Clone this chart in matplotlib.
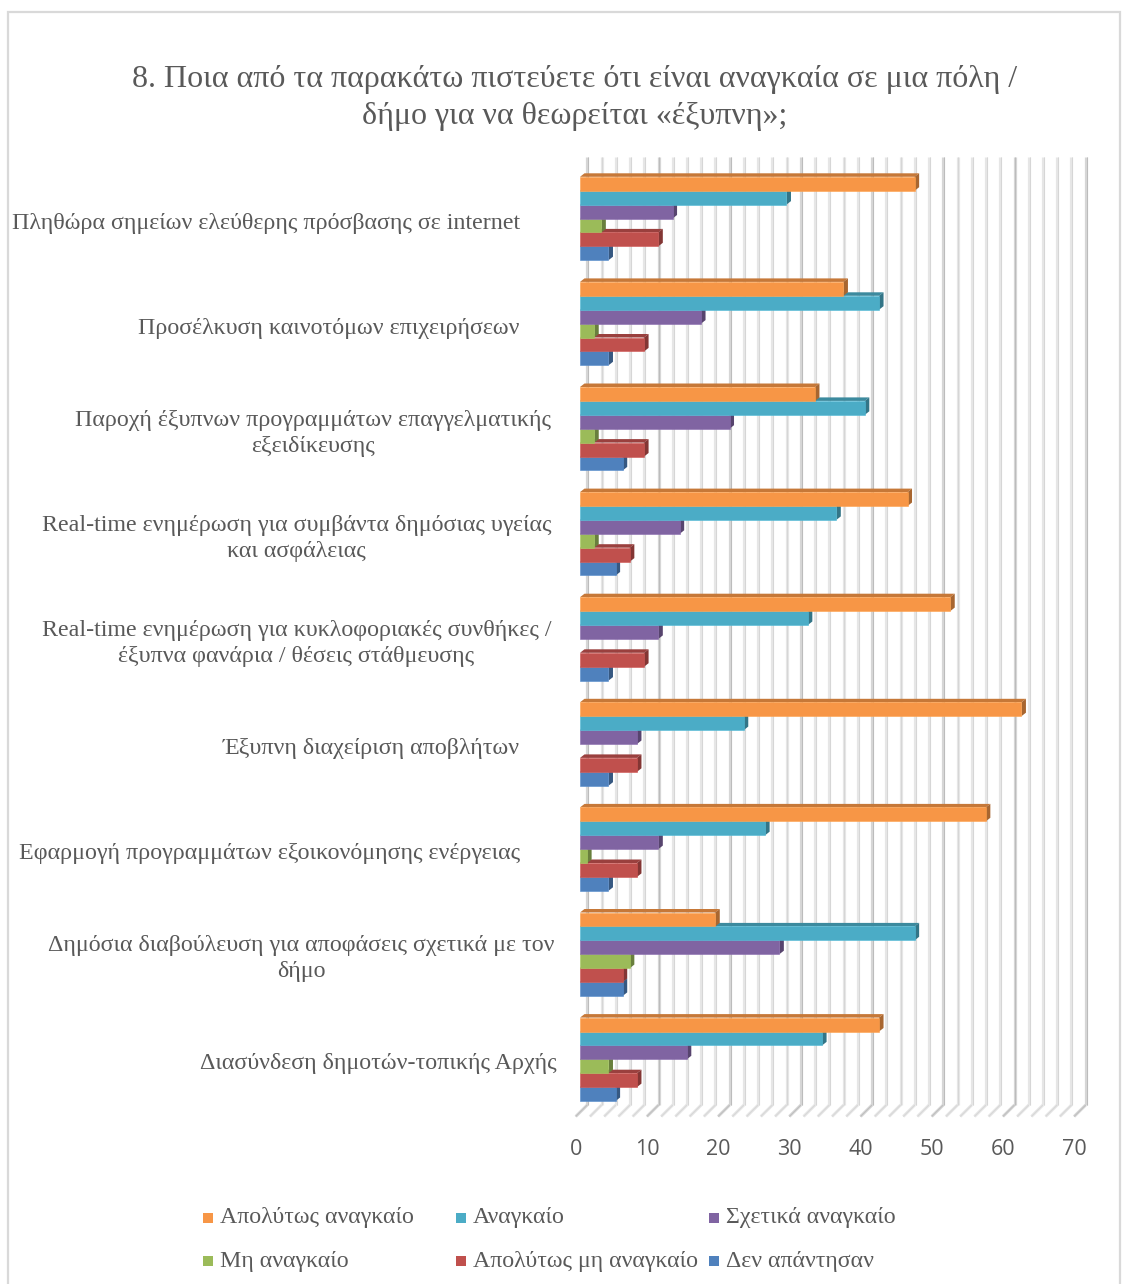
import numpy as np
import matplotlib
matplotlib.use("Agg")
import matplotlib.pyplot as plt
from matplotlib.patches import Polygon, Rectangle
from matplotlib.colors import to_rgb
from matplotlib.transforms import ScaledTranslation

# ---------------- data ----------------
categories = [
    "Πληθώρα σημείων ελεύθερης πρόσβασης σε internet",
    "Προσέλκυση καινοτόμων επιχειρήσεων",
    "Παροχή έξυπνων προγραμμάτων επαγγελματικής\nεξειδίκευσης",
    "Real-time ενημέρωση για συμβάντα δημόσιας υγείας\nκαι ασφάλειας",
    "Real-time ενημέρωση για κυκλοφοριακές συνθήκες /\nέξυπνα φανάρια / θέσεις στάθμευσης",
    "Έξυπνη διαχείριση αποβλήτων",
    "Εφαρμογή προγραμμάτων εξοικονόμησης ενέργειας",
    "Δημόσια διαβούλευση για αποφάσεις σχετικά με τον\nδήμο",
    "Διασύνδεση δημοτών-τοπικής Αρχής",
]

series_names = [
    "Απολύτως αναγκαίο",
    "Αναγκαίο",
    "Σχετικά αναγκαίο",
    "Μη αναγκαίο",
    "Απολύτως μη αναγκαίο",
    "Δεν απάντησαν",
]

apolytos_anagkaio = [47, 37, 33, 46, 52, 62, 57, 19, 42]
anagkaio = [29, 42, 40, 36, 32, 23, 26, 47, 34]
sxetika_anagkaio = [13, 17, 21, 14, 11, 8, 11, 28, 15]
mi_anagkaio = [3, 2, 2, 2, 0, 0, 1, 7, 4]
apolytos_mi_anagkaio = [11, 9, 9, 7, 9, 8, 8, 6, 8]
den_apantisan = [4, 4, 6, 5, 4, 4, 4, 6, 5]

series_values = [apolytos_anagkaio, anagkaio, sxetika_anagkaio,
                 mi_anagkaio, apolytos_mi_anagkaio, den_apantisan]
series_colors = ["#F79646", "#4BACC6", "#8064A2", "#9BBB59", "#C0504D", "#4F81BD"]

x_ticks = [0, 10, 20, 30, 40, 50, 60, 70]

title = ("8. Ποια από τα παρακάτω πιστεύετε ότι είναι αναγκαία σε μια πόλη /\n"
         "δήμο για να θεωρείται «έξυπνη»;")

# ---------------- layout ----------------
W, H = 1123, 1284
TEXT_GRAY = "#595959"
SERIF = ["Liberation Serif", "DejaVu Serif"]
SANS = ["Open Sans", "DejaVu Sans"]

fig = plt.figure(figsize=(W / 100, H / 100), dpi=100)
fig.patch.set_facecolor("white")


def fx(px):
    return px / W


def fy(py):
    return 1 - py / H


# chart frame
fig.add_artist(Rectangle((fx(8), fy(1290)), fx(1120 - 8), (1290 - 12) / H,
                         transform=fig.transFigure, fill=False,
                         edgecolor="#d9d9d9", linewidth=1.6))

X0_PX, X_SCALE, X_MAX = 580.0, 7.12, 70
AX_TOP, AX_BOT = 157.0, 1105.0
ROW0, PITCH = 218.5, 105.1

ax = fig.add_axes([fx(X0_PX), fy(AX_BOT), X_MAX * X_SCALE / W, (AX_BOT - AX_TOP) / H])
ax.set_xlim(0, X_MAX)
ax.set_ylim((AX_BOT - ROW0) / PITCH, (AX_TOP - ROW0) / PITCH)
ax.set_facecolor("none")
for sp in ax.spines.values():
    sp.set_visible(False)
ax.tick_params(axis="y", left=False, labelleft=False)


def px_delta(dx, dy_down):
    """Convert a screen offset in pixels into a data-space offset."""
    inv = ax.transData.inverted()
    p0 = ax.transData.transform((0, 0))
    a = inv.transform(p0 + np.array([dx, -dy_down]))
    b = inv.transform(p0)
    return a[0] - b[0], a[1] - b[1]


def px_to_pt(px):
    return px * 72 / 100


def shade(color, f):
    return tuple(min(1.0, c * f) for c in to_rgb(color))


y_bot, y_top = ax.get_ylim()

# back-wall gridlines and floor
back_dx, _ = px_delta(7.3, 0)
floor_dx, _ = px_delta(-4.3, 0)
_, floor_dy = px_delta(0, 11.5)
for v in np.arange(0, X_MAX + 1, 2):
    major = (v % 10 == 0)
    band = "#e6e6e6" if not major else "#d6d6d6"
    core = "#d6d6d6" if not major else "#bcbcbc"
    xb = v + back_dx
    ax.plot([xb, xb], [y_bot, y_top], color=band, lw=px_to_pt(3.2),
            zorder=0.5, solid_capstyle="butt", clip_on=False)
    ax.plot([xb + px_delta(0.8, 0)[0]] * 2, [y_bot, y_top], color=core,
            lw=px_to_pt(1.0), zorder=0.6, solid_capstyle="butt", clip_on=False)
    ax.plot([xb, v + floor_dx], [y_bot, y_bot + floor_dy], color=band,
            lw=px_to_pt(3.0), zorder=0.5, solid_capstyle="butt", clip_on=False)
    ax.plot([xb, v + floor_dx], [y_bot, y_bot + floor_dy], color=core,
            lw=px_to_pt(0.9), zorder=0.6, solid_capstyle="butt", clip_on=False)

# 3D clustered bars
_, bar_h = px_delta(0, 13.9)
bar_h = abs(bar_h)
dep_x, dep_y = px_delta(4.5, -3.5)
n_series = len(series_values)
cat_idx = np.arange(len(categories))

for s in reversed(range(n_series)):
    vals = np.asarray(series_values[s], dtype=float)
    color = series_colors[s]
    base_z = 2 + (n_series - 1 - s)
    yc = cat_idx + (s - (n_series - 1) / 2) * bar_h
    mask = vals > 0
    ax.barh(yc[mask], vals[mask], height=bar_h, color=color, zorder=base_z + 0.5,
            edgecolor=shade(color, 1.08), linewidth=0.4)
    for y, v in zip(yc[mask], vals[mask]):
        yt = y - bar_h / 2
        yb = y + bar_h / 2
        top = Polygon([(0, yt), (v, yt), (v + dep_x, yt + dep_y), (dep_x, yt + dep_y)],
                      closed=True, facecolor=shade(color, 0.8), edgecolor="none",
                      zorder=base_z + 0.2)
        side = Polygon([(v, yt), (v, yb), (v + dep_x, yb + dep_y), (v + dep_x, yt + dep_y)],
                       closed=True, facecolor=shade(color, 0.68), edgecolor="none",
                       zorder=base_z + 0.2)
        ax.add_patch(top)
        ax.add_patch(side)

# value axis labels
ax.set_xticks(x_ticks)
ax.set_xticklabels([str(t) for t in x_ticks])
ax.tick_params(axis="x", length=0, pad=px_to_pt(34), labelsize=15.5,
               labelcolor=TEXT_GRAY)
for lbl in ax.get_xticklabels():
    lbl.set_fontfamily(SANS)
    lbl.set_transform(lbl.get_transform() + ScaledTranslation(-0.04, 0, fig.dpi_scale_trans))

# category labels
LABEL_RIGHT_PX = [520, 520, 551, 551, 551, 520, 520, 555, 557]
for i, lab in enumerate(categories):
    ax.annotate(lab, xy=(0, i), xycoords=("axes fraction", "data"),
                xytext=(-px_to_pt(X0_PX - LABEL_RIGHT_PX[i]), -px_to_pt(4.5)),
                textcoords="offset points", ha="right", va="center",
                multialignment="center", fontsize=17.3, family=SERIF,
                color=TEXT_GRAY, linespacing=1.32, annotation_clip=False)

# title
fig.text(fx(575), fy(98), title, ha="center", va="center", fontsize=23,
         family=SERIF, color=TEXT_GRAY, linespacing=1.35)

# legend
LEG_MARK_X = [203, 456, 709]
LEG_ROW_Y = [1218, 1261]
for k, name in enumerate(series_names):
    row, col = divmod(k, 3)
    mx, my = LEG_MARK_X[col], LEG_ROW_Y[row]
    fig.add_artist(Rectangle((fx(mx), fy(my + 5)), 10 / W, 10 / H,
                             transform=fig.transFigure, facecolor=series_colors[k],
                             edgecolor="none"))
    fig.text(fx(mx + 17), fy(my), name, ha="left", va="center", fontsize=17.2,
             family=SERIF, color=TEXT_GRAY)

fig.savefig("out.png", dpi=100, facecolor="white")
